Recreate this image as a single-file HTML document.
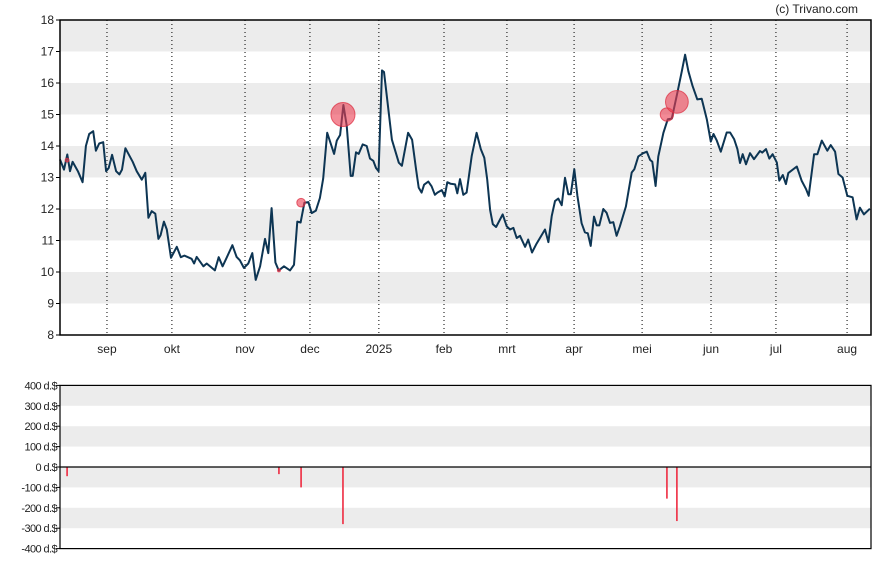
<!DOCTYPE html>
<html><head><meta charset="utf-8"><style>
body{margin:0;background:#fff}
svg{display:block;font-family:"Liberation Sans",sans-serif}
</style></head><body>
<svg id="c" width="888" height="565"></svg>
<script>
const days=[0,1.8,3.3,4.5,5.7,8.1,10.2,11.7,13.2,15,16.2,17.7,19.5,20.8,22,23.5,25.3,26.8,28,29.5,32.8,34.6,36.9,38.5,39.9,41.4,43,44.4,45.4,46.9,48.2,50.1,52.7,54.5,56.1,59.4,60.5,61.7,64.7,66.2,69.9,71.6,73.4,75.2,77.8,79.7,81.2,83,85,86.8,88.3,90.3,92.5,94,95.5,97.2,98.7,101.1,103.8,105.6,107.1,108.6,110.3,112.1,113.6,115.5,117.3,118.8,120.6,123.7,124.9,126.4,127.9,129.4,131.2,132.1,133.6,134.8,136.6,138.4,139.9,141.4,142.6,143.8,145.3,146.2,149.8,152.9,154.3,157.1,158.9,160.7,161.9,163.2,164.3,166.2,167.7,169.2,170.3,172.3,173.6,174.8,176.3,178.3,179.3,180.5,182,183.5,185.8,188,189.9,191.5,192.8,194.1,195.3,196.8,199.8,201.6,203.1,204.6,206.1,207.6,209.9,211.3,213,215.1,218.9,220.4,221.9,223.4,224.9,226.4,227.9,229.4,230.5,232.1,233.5,235.4,236.9,238.2,239.5,241,242.2,243.4,245.2,246.7,248.2,249.7,251.2,252.7,255.4,258,259.2,261,263.2,264.8,266.3,267.3,268.8,270,272.3,274.3,276.1,278.6,280.6,282.1,283.6,285.5,287.6,289.6,291.9,293.7,294.9,296.4,298.2,300.9,302.4,304.2,305.7,306.9,308.1,309.6,311.4,313.2,315.9,316.9,318.6,320.1,321.6,323.5,324.6,326.2,327.6,328.7,332.5,334.7,336.7,337.9,340.3,341.8,343.8,346.3,347.8,349.8,351.3,353.2,355.3,357.7,359.5,361,362.8,365.5];
const prices=[13.57,13.25,13.73,13.2,13.5,13.2,12.85,14.0,14.38,14.47,13.85,14.08,14.12,13.2,13.3,13.72,13.2,13.1,13.25,13.93,13.5,13.2,12.93,13.15,11.72,11.93,11.85,11.05,11.17,11.6,11.35,10.45,10.8,10.47,10.52,10.42,10.27,10.48,10.18,10.27,10.05,10.47,10.18,10.45,10.85,10.48,10.37,10.13,10.27,10.6,9.75,10.18,11.05,10.6,12.03,10.3,10.05,10.18,10.05,10.23,11.6,11.57,12.2,12.22,11.87,11.95,12.35,12.97,14.42,13.75,14.17,14.35,15.3,14.65,13.05,13.05,13.8,13.75,14.05,14.0,13.6,13.53,13.3,13.2,16.4,16.35,14.2,13.47,13.37,14.42,14.2,13.25,12.68,12.52,12.77,12.87,12.72,12.45,12.52,12.6,12.4,12.85,12.8,12.78,12.5,12.95,12.45,12.52,13.68,14.42,13.9,13.63,12.94,11.97,11.52,11.43,11.83,11.45,11.35,11.4,11.08,11.15,10.8,11.03,10.62,10.9,11.35,10.95,11.77,12.25,12.33,12.12,12.99,12.47,12.47,13.26,12.42,11.55,11.26,11.23,10.83,11.76,11.48,11.48,12.0,11.88,11.56,11.58,11.15,11.45,12.08,13.16,13.26,13.67,13.77,13.82,13.56,13.5,12.73,13.67,14.42,14.85,14.87,15.68,16.37,16.9,16.37,15.9,15.48,15.5,14.85,14.14,14.38,14.17,13.82,14.43,14.43,14.22,13.9,13.46,13.74,13.42,13.77,13.58,13.84,13.79,13.9,13.6,13.74,13.48,12.9,13.08,12.79,13.14,13.35,12.9,12.63,12.42,13.74,13.74,14.17,13.85,14.03,13.82,13.11,13.0,12.42,12.37,11.67,12.04,11.83,12.01];
const monthLabels=["sep","okt","nov","dec","2025","feb","mrt","apr","mei","jun","jul","aug"];
const monthDays=[21.2,50.5,83.5,112.8,143.9,173.3,201.7,232,262.7,293.8,323.1,355.2];
const priceTicks=[8,9,10,11,12,13,14,15,16,17,18];
const eventDays=[3.2,98.8,108.8,127.7,273.9,278.4];
const eventPrices=[13.55,10.05,12.2,15.0,15.0,15.4];
const eventAmounts=[-45,-35,-100,-280,-155,-265];
const volTicks=[400,300,200,100,0,-100,-200,-300,-400];

const NS="http://www.w3.org/2000/svg";
const svg=document.getElementById('c');
function mk(t,a,p){const e=document.createElementNS(NS,t);for(const k in a)e.setAttribute(k,a[k]);(p||svg).appendChild(e);return e;}
const L=60,R=871;
const x=d=>L+d*(R-L)/366;
const y=v=>335-(v-8)*31.5;
const y2=v=>467-v*0.2040;

for(let v=8;v<18;v++){ if(v%2===1){const b=mk('rect',{x:L,y:y(v+1),width:R-L,height:31.5,fill:'#ececec'});

}}
monthDays.forEach((d,i)=>{
 const g=mk('line',{x1:x(d),x2:x(d),y1:20,y2:335,stroke:'#000','stroke-width':1,'stroke-dasharray':'1,3'});
 
 
 const t=mk('text',{x:x(d),y:353,'font-size':12,'text-anchor':'middle',fill:'#222'});
 t.textContent=monthLabels[i];
 
 
});
priceTicks.forEach(v=>{
 mk('line',{x1:L-4,x2:L,y1:y(v),y2:y(v),stroke:'#000'});
 const t=mk('text',{x:L-6,y:y(v)+4,'font-size':12,'text-anchor':'end',fill:'#222'});
 t.textContent=v;
 
 
});
let dstr=days.map((d,i)=>(i?'L':'M')+x(d).toFixed(1)+','+y(prices[i]).toFixed(1)).join('');
const ln=mk('path',{d:dstr,fill:'none',stroke:'#0d3553','stroke-width':2,'stroke-linejoin':'round'});


eventDays.forEach((d,i)=>{
 const r=Math.max(1.5,Math.abs(eventAmounts[i])*0.043);
 const c=mk('circle',{cx:x(d),cy:y(eventPrices[i]),r:r,fill:'rgba(235,60,80,0.6)',stroke:'rgba(220,40,60,0.7)','stroke-width':1});
 
 
});
const fr=mk('rect',{x:L,y:20,width:R-L,height:315,fill:'none',stroke:'#000','stroke-width':1.5});


const cp=mk('text',{x:858,y:13,'font-size':12,'text-anchor':'end',fill:'#222'});
cp.textContent='(c) Trivano.com';



[[300,400],[100,200],[-100,0],[-300,-200]].forEach(b=>{
 const r=mk('rect',{x:L,y:y2(b[1]),width:R-L,height:y2(b[0])-y2(b[1]),fill:'#ececec'});
 
 
});
volTicks.forEach(v=>{
 mk('line',{x1:L-4,x2:L,y1:y2(v),y2:y2(v),stroke:'#000'});
 const t=mk('text',{x:L-3,y:y2(v)+4,'font-size':11,'text-anchor':'end',fill:'#222','letter-spacing':'-0.6'});
 t.textContent=v+' d.$';
 
 
});
eventDays.forEach((d,i)=>{
 const b=mk('line',{x1:x(d),x2:x(d),y1:y2(0),y2:y2(eventAmounts[i]),stroke:'#ee2a40','stroke-width':1.6});
 
 
});
mk('line',{x1:L,x2:R,y1:y2(0),y2:y2(0),stroke:'#000','stroke-width':1.2});
const f2=mk('rect',{x:L,y:y2(400),width:R-L,height:y2(-400)-y2(400),fill:'none',stroke:'#000','stroke-width':1.2});


</script>
</body></html>
